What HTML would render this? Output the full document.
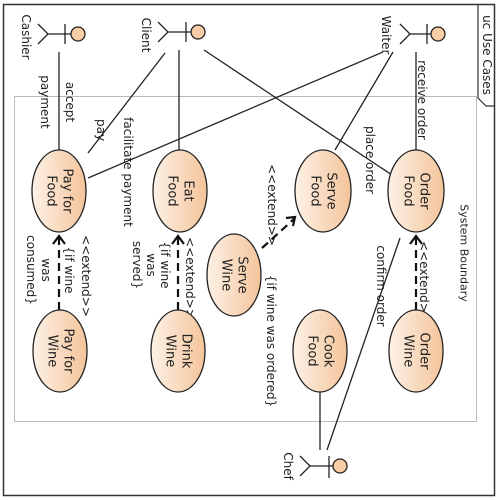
<!DOCTYPE html>
<html><head><meta charset="utf-8"><style>
html,body{margin:0;padding:0;background:#fff;}
svg{display:block;font-family:"DejaVu Sans","Liberation Sans",sans-serif;}
</style></head><body>
<svg width="500" height="500" viewBox="0 0 500 500">
<defs>
<linearGradient id="g" x1="0" y1="0" x2="1" y2="0">
<stop offset="0" stop-color="#fdf1e6"/><stop offset="1" stop-color="#f4c49a"/>
</linearGradient>
</defs>
<rect x="3.5" y="4.5" width="491" height="491" fill="#fff" stroke="#333" stroke-width="1.5"/>
<path d="M478,4.5 V98 L486,106 H494.5" fill="none" stroke="#333" stroke-width="1.2"/>
<text transform="translate(487,55) rotate(90)" text-anchor="middle" dominant-baseline="central" font-size="12" fill="#222">uc Use Cases</text>
<rect x="14.5" y="96.5" width="462" height="325" fill="none" stroke="#bbb" stroke-width="1"/>
<text transform="translate(464,253) rotate(90)" text-anchor="middle" dominant-baseline="central" font-size="11" fill="#222">System Boundary</text>

<g stroke="#222" stroke-width="1.3" fill="none">
<line x1="59" y1="52" x2="59" y2="150"/>
<line x1="165" y1="53" x2="88" y2="153"/>
<line x1="179" y1="50" x2="179" y2="150"/>
<line x1="204" y1="50" x2="392" y2="175"/>
<line x1="383" y1="52" x2="88" y2="178"/>
<line x1="393" y1="52" x2="335" y2="150"/>
<line x1="416" y1="52" x2="416" y2="150"/>
<line x1="327" y1="450" x2="400" y2="238"/>
<line x1="320" y1="450" x2="320" y2="392"/>
</g>
<g stroke="#111" stroke-width="2.2" fill="none">
<line x1="59" y1="310" x2="59" y2="237" stroke-dasharray="8,5"/><polyline points="53,244 59,236 65,244"/>
<line x1="178" y1="310" x2="178" y2="237" stroke-dasharray="8,5"/><polyline points="172,244 178,236 184,244"/>
<line x1="416" y1="310" x2="416" y2="237" stroke-dasharray="8,5"/><polyline points="410,244 416,236 422,244"/>
<line x1="262" y1="248" x2="294" y2="219" stroke-dasharray="8,5"/><polyline points="286,218 295,217 293,226"/>
</g>

<g font-size="12" fill="#222" text-anchor="middle" dominant-baseline="central">
<text transform="translate(70,102) rotate(90)">accept</text>
<text transform="translate(45,102) rotate(90)">payment</text>
<text transform="translate(101,130) rotate(90)">pay</text>
<text transform="translate(128,172) rotate(90)">facilitate payment</text>
<text transform="translate(370,160) rotate(90)">place order</text>
<text transform="translate(422,100) rotate(90)">receive order</text>
<text transform="translate(381,286) rotate(90)">confirm order</text>
<text transform="translate(86,276) rotate(90)">&lt;&lt;extend&gt;&gt;</text>
<text transform="translate(69,270) rotate(90)">{if wine</text>
<text transform="translate(46,270) rotate(90)">was</text>
<text transform="translate(31,270) rotate(90)">consumed}</text>
<text transform="translate(190,278) rotate(90)">&lt;&lt;extend&gt;&gt;</text>
<text transform="translate(165,265) rotate(90)">{if wine</text>
<text transform="translate(151,265) rotate(90)">was</text>
<text transform="translate(137,265) rotate(90)">served}</text>
<text transform="translate(272,205) rotate(90)">&lt;&lt;extend&gt;&gt;</text>
<text transform="translate(271,341) rotate(90)">{if wine was ordered}</text>
<text transform="translate(424,282) rotate(90)">&lt;&lt;extend&gt;&gt;</text>
</g>

<g stroke="#222" stroke-width="1.3" fill="url(#g)">
<ellipse cx="59" cy="191" rx="27" ry="41"/>
<ellipse cx="180" cy="191" rx="27" ry="41"/>
<ellipse cx="323" cy="191" rx="28" ry="41"/>
<ellipse cx="416" cy="191" rx="28" ry="41"/>
<ellipse cx="234" cy="275" rx="27" ry="41"/>
<ellipse cx="60" cy="351" rx="27" ry="41"/>
<ellipse cx="178" cy="351" rx="27" ry="41"/>
<ellipse cx="320" cy="351" rx="27" ry="41"/>
<ellipse cx="416" cy="351" rx="27" ry="41"/>
</g>
<g font-size="13" fill="#222" text-anchor="middle" dominant-baseline="central">
<text transform="translate(67,191) rotate(90)">Pay for</text><text transform="translate(51,191) rotate(90)">Food</text>
<text transform="translate(188,191) rotate(90)">Eat</text><text transform="translate(172,191) rotate(90)">Food</text>
<text transform="translate(331,191) rotate(90)">Serve</text><text transform="translate(315,191) rotate(90)">Food</text>
<text transform="translate(424,191) rotate(90)">Order</text><text transform="translate(408,191) rotate(90)">Food</text>
<text transform="translate(242,275) rotate(90)">Serve</text><text transform="translate(226,275) rotate(90)">Wine</text>
<text transform="translate(68,351) rotate(90)">Pay for</text><text transform="translate(52,351) rotate(90)">Wine</text>
<text transform="translate(186,351) rotate(90)">Drink</text><text transform="translate(170,351) rotate(90)">Wine</text>
<text transform="translate(328,351) rotate(90)">Cook</text><text transform="translate(312,351) rotate(90)">Food</text>
<text transform="translate(424,351) rotate(90)">Order</text><text transform="translate(408,351) rotate(90)">Wine</text>
</g>

<g stroke="#222" stroke-width="1.3" fill="#f8cca4">
<g><circle cx="78" cy="34" r="7"/><line x1="71" y1="34" x2="48" y2="34"/><line x1="65" y1="24" x2="65" y2="44"/><polyline fill="none" points="38,24 48,34 38,44"/></g>
<g><circle cx="198" cy="32" r="7"/><line x1="191" y1="32" x2="168" y2="32"/><line x1="186" y1="22" x2="186" y2="42"/><polyline fill="none" points="158,22 168,32 158,42"/></g>
<g><circle cx="438" cy="34" r="7"/><line x1="431" y1="34" x2="410" y2="34"/><line x1="427" y1="24" x2="427" y2="44"/><polyline fill="none" points="400,24 410,34 400,44"/></g>
<g><circle cx="340" cy="466" r="7"/><line x1="333" y1="466" x2="310" y2="466"/><line x1="329" y1="456" x2="329" y2="478"/><polyline fill="none" points="300,456 310,466 300,476"/></g>
</g>
<g font-size="12" fill="#222" text-anchor="middle" dominant-baseline="central">
<text transform="translate(26,37) rotate(90)">Cashier</text>
<text transform="translate(146,35) rotate(90)">Client</text>
<text transform="translate(386,35) rotate(90)">Waiter</text>
<text transform="translate(288,466) rotate(90)">Chef</text>
</g>
</svg>
</body></html>
